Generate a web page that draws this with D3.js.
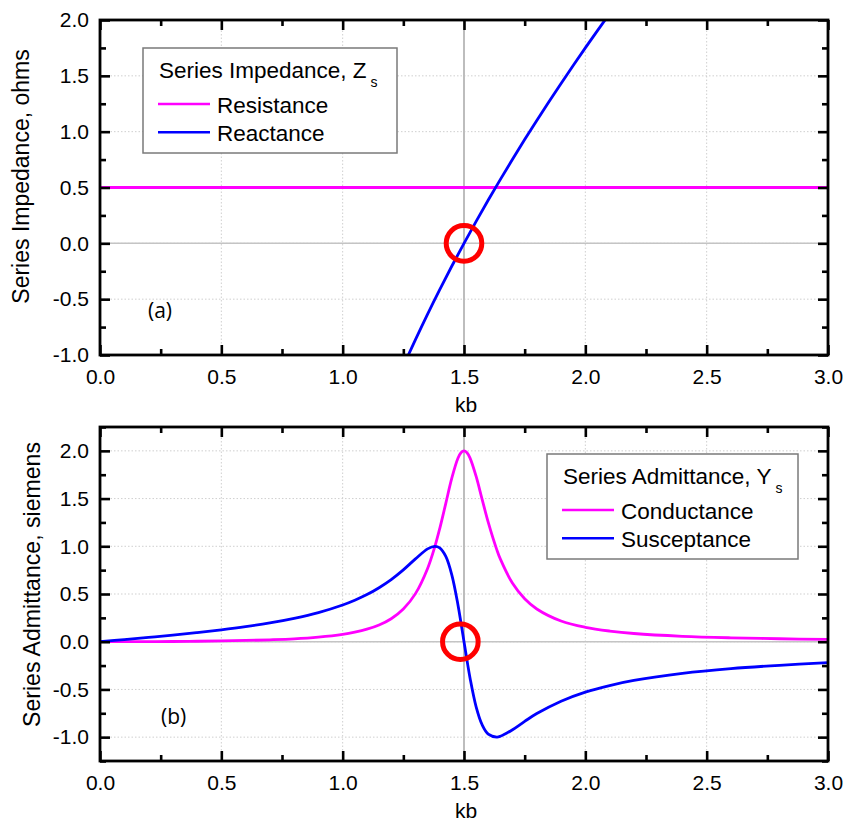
<!DOCTYPE html>
<html>
<head>
<meta charset="utf-8">
<script src="https://cdn.jsdelivr.net/npm/d3@7"></script>
<style>
  body { margin: 0; background: #fff; }
  svg text { fill: #000; }
</style>
</head>
<body>
<svg id="chart" width="848" height="825" font-family="'Liberation Sans', Arial, Helvetica, sans-serif"></svg>
<script>
// ---- shared axis ticks ----
const kbMajor = [0, 0.5, 1.0, 1.5, 2.0, 2.5, 3.0];
const kbMinor = [0.25, 0.75, 1.25, 1.75, 2.25, 2.75];

// ---- panel (a): series impedance ----
const zMajor = [-1.0, -0.5, 0.0, 0.5, 1.0, 1.5, 2.0];
const zMinor = [-0.75, -0.25, 0.25, 0.75, 1.25, 1.75];
const resistanceKb = [0.0, 0.5, 1.0, 1.5, 2.0, 2.5, 3.0];
const resistance   = [0.5, 0.5, 0.5, 0.5, 0.5, 0.5, 0.5];
const reactanceKb  = [1.20, 1.25, 1.30, 1.35, 1.40, 1.45, 1.50, 1.55, 1.60, 1.65,
                      1.70, 1.75, 1.80, 1.85, 1.90, 1.95, 2.00, 2.05, 2.10, 2.15];
const reactance    = [-1.350, -1.100, -0.862, -0.633, -0.414, -0.203, 0.000, 0.197, 0.388, 0.573,
                      0.753, 0.929, 1.100, 1.268, 1.432, 1.592, 1.750, 1.905, 2.057, 2.207];

// ---- panel (b): series admittance ----
const yMajor = [-1.0, -0.5, 0.0, 0.5, 1.0, 1.5, 2.0];
const yMinor = [-1.25, -0.75, -0.25, 0.25, 0.75, 1.25, 1.75, 2.25];
const admKb = [0.0, 0.1, 0.2, 0.3, 0.4, 0.5, 0.6, 0.7, 0.8, 0.9,
               1.0, 1.05, 1.1, 1.15, 1.2, 1.25, 1.3, 1.35, 1.38, 1.4,
               1.425, 1.45, 1.475, 1.4875, 1.5, 1.5125, 1.525, 1.55, 1.575, 1.6,
               1.635, 1.65, 1.7, 1.75, 1.8, 1.9, 2.0, 2.1, 2.2, 2.4,
               2.6, 2.8, 3.0];
const conductance = [0.000, 0.000, 0.001, 0.002, 0.005, 0.008, 0.013, 0.020, 0.030, 0.048,
                     0.077, 0.100, 0.131, 0.175, 0.241, 0.343, 0.504, 0.768, 0.998, 1.186,
                     1.450, 1.716, 1.922, 1.980, 2.000, 1.980, 1.924, 1.732, 1.489, 1.250,
                     0.965, 0.865, 0.612, 0.450, 0.343, 0.217, 0.151, 0.112, 0.086, 0.057,
                     0.041, 0.031, 0.024];
const susceptance = [0.000, 0.022, 0.045, 0.069, 0.096, 0.125, 0.158, 0.197, 0.245, 0.305,
                     0.385, 0.435, 0.494, 0.566, 0.651, 0.753, 0.868, 0.973, 1.000, 0.983,
                     0.893, 0.698, 0.388, 0.199, 0.000, -0.197, -0.382, -0.682, -0.872, -0.968,
                     -0.999, -0.991, -0.922, -0.835, -0.753, -0.623, -0.528, -0.459, -0.406, -0.332,
                     -0.282, -0.247, -0.220];

// resonance markers (kb, value)
const zMarker = [{ kb: 1.5, v: 0.0 }];
const yMarker = [{ kb: 1.485, v: 0.0 }];

const MAGENTA = "#ff00ff";
const BLUE = "#0000ff";
const SANS = "'Liberation Sans', Arial, Helvetica, sans-serif";

const svg = d3.select("#chart");
const fmt = d => d.toFixed(1);

function drawPanel(cfg) {
  const x = d3.scaleLinear().domain([0, 3]).range([100, 828]);
  const y = d3.scaleLinear().domain(cfg.yDomain).range(cfg.yRange);
  const [y0, y1] = cfg.yRange; // bottom, top
  const g = svg.append("g");
  const clipId = cfg.id + "-clip";
  g.append("clipPath").attr("id", clipId)
    .append("rect").attr("x", 100).attr("y", y1).attr("width", 728).attr("height", y0 - y1);

  // dotted grid at major ticks
  const grid = g.append("g").attr("stroke", "#cfcfcf").attr("stroke-width", 1).attr("stroke-dasharray", "1.5,2");
  grid.selectAll("line.gx").data(kbMajor.filter(d => d > 0 && d < 3)).join("line")
    .attr("x1", d => x(d)).attr("x2", d => x(d)).attr("y1", y1).attr("y2", y0);
  grid.selectAll("line.gy").data(cfg.yMajor.filter(d => y(d) < y0 - 1 && y(d) > y1 + 1)).join("line")
    .attr("x1", 100).attr("x2", 828).attr("y1", d => y(d)).attr("y2", d => y(d));

  // reference lines at kb = 1.5 and value = 0
  g.append("line").attr("x1", x(1.5)).attr("x2", x(1.5)).attr("y1", y1).attr("y2", y0)
    .attr("stroke", "#bdbdbd").attr("stroke-width", 2);
  g.append("line").attr("x1", 100).attr("x2", 828).attr("y1", y(0)).attr("y2", y(0))
    .attr("stroke", "#c4c4c4").attr("stroke-width", 1.5);

  // series
  const plot = g.append("g").attr("clip-path", `url(#${clipId})`);
  cfg.series.forEach(s => {
    const pts = s.kb.map((k, i) => [k, s.v[i]]);
    plot.append("path").datum(pts)
      .attr("fill", "none").attr("stroke", s.color).attr("stroke-width", 2.8)
      .attr("stroke-linejoin", "round")
      .attr("d", d3.line().x(d => x(d[0])).y(d => y(d[1])).curve(d3.curveCatmullRom.alpha(0.5)));
  });

  // axes with inward ticks on all four sides
  const styleAxis = sel => {
    sel.attr("font-family", SANS).attr("font-size", 21);
    sel.select(".domain").remove();
    sel.selectAll(".tick line").attr("stroke", "#000").attr("stroke-width", 2.6);
    sel.selectAll(".tick text").attr("fill", "#000");
  };
  g.append("g").attr("transform", `translate(0,${y0})`)
    .call(d3.axisBottom(x).tickValues(kbMajor).tickSizeInner(-10).tickSizeOuter(0).tickPadding(14).tickFormat(fmt))
    .call(styleAxis);
  g.append("g").attr("transform", `translate(0,${y0})`)
    .call(d3.axisBottom(x).tickValues(kbMinor).tickSize(-6).tickFormat("")).call(styleAxis);
  g.append("g").attr("transform", `translate(0,${y1})`)
    .call(d3.axisTop(x).tickValues(kbMajor).tickSize(-10).tickFormat("")).call(styleAxis);
  g.append("g").attr("transform", `translate(0,${y1})`)
    .call(d3.axisTop(x).tickValues(kbMinor).tickSize(-6).tickFormat("")).call(styleAxis);
  g.append("g").attr("transform", "translate(100,0)")
    .call(d3.axisLeft(y).tickValues(cfg.yMajor).tickSizeInner(-10).tickSizeOuter(0).tickPadding(11).tickFormat(fmt))
    .call(styleAxis);
  g.append("g").attr("transform", "translate(100,0)")
    .call(d3.axisLeft(y).tickValues(cfg.yMinor).tickSize(-6).tickFormat("")).call(styleAxis);
  g.append("g").attr("transform", "translate(828,0)")
    .call(d3.axisRight(y).tickValues(cfg.yMajor).tickSize(-10).tickFormat("")).call(styleAxis);
  g.append("g").attr("transform", "translate(828,0)")
    .call(d3.axisRight(y).tickValues(cfg.yMinor).tickSize(-6).tickFormat("")).call(styleAxis);

  // frame
  g.append("rect").attr("x", 100).attr("y", y1).attr("width", 728).attr("height", y0 - y1)
    .attr("fill", "none").attr("stroke", "#000").attr("stroke-width", 2.8);

  // axis titles
  g.append("text").attr("x", 466).attr("y", y0 + 57).attr("text-anchor", "middle")
    .attr("font-size", 21).text("kb");
  const yt = g.append("text").attr("text-anchor", "middle").attr("font-size", cfg.yTitleSize)
    .attr("transform", `translate(${cfg.yTitlePos[0]},${cfg.yTitlePos[1]}) rotate(-90)`)
    .text(cfg.yTitle);
  if (cfg.yTitleLen) yt.attr("textLength", cfg.yTitleLen).attr("lengthAdjust", "spacingAndGlyphs");

  // panel tag
  g.append("text").attr("x", cfg.tagPos[0]).attr("y", cfg.tagPos[1])
    .attr("font-family", "'Open Sans', sans-serif").attr("font-size", 21).text(cfg.tag);

  // legend
  const L = cfg.legend;
  const lg = g.append("g");
  lg.append("rect").attr("x", L.x).attr("y", L.y).attr("width", L.w).attr("height", L.h)
    .attr("fill", "#fff").attr("stroke", "#7a7a7a").attr("stroke-width", 1.5);
  const title = lg.append("text").attr("x", L.x + 16).attr("y", L.y + 30).attr("font-size", 22.5);
  title.append("tspan").text(L.title);
  title.append("tspan").attr("font-size", 14).attr("dx", 4).attr("dy", 9).text(L.sub);
  L.items.forEach((it, i) => {
    const ly = L.y + 56 + i * 28.3;
    lg.append("line").attr("x1", L.x + 15).attr("x2", L.x + 67).attr("y1", ly).attr("y2", ly)
      .attr("stroke", it.color).attr("stroke-width", 2.4);
    lg.append("text").attr("x", L.x + 74).attr("y", ly + 8.5).attr("font-size", 22.5).text(it.label);
  });

  // resonance marker circle
  g.selectAll("circle.marker").data(cfg.marker).join("circle")
    .attr("cx", d => x(d.kb)).attr("cy", d => y(d.v)).attr("r", 17.8)
    .attr("fill", "none").attr("stroke", "#ff0000").attr("stroke-width", 5);
}

drawPanel({
  id: "pa",
  yDomain: [-1, 2], yRange: [355, 20],
  yMajor: zMajor, yMinor: zMinor,
  series: [
    { kb: resistanceKb, v: resistance, color: MAGENTA },
    { kb: reactanceKb, v: reactance, color: BLUE }
  ],
  yTitle: "Series Impedance, ohms", yTitleSize: 23, yTitlePos: [29, 176.5],
  tag: "(a)", tagPos: [148, 318],
  legend: { x: 143, y: 48, w: 254, h: 105, title: "Series Impedance, Z", sub: "s",
            items: [{ label: "Resistance", color: MAGENTA }, { label: "Reactance", color: BLUE }] },
  marker: zMarker
});

drawPanel({
  id: "pb",
  yDomain: [-1.25, 2.25], yRange: [761, 427],
  yMajor: yMajor, yMinor: yMinor,
  series: [
    { kb: admKb, v: conductance, color: MAGENTA },
    { kb: admKb, v: susceptance, color: BLUE }
  ],
  yTitle: "Series Admittance, siemens", yTitleSize: 24, yTitlePos: [40, 584.5], yTitleLen: 285,
  tag: "(b)", tagPos: [161, 724],
  legend: { x: 547, y: 454, w: 251, h: 105, title: "Series Admittance, Y", sub: "s",
            items: [{ label: "Conductance", color: MAGENTA }, { label: "Susceptance", color: BLUE }] },
  marker: yMarker
});
</script>
</body>
</html>
